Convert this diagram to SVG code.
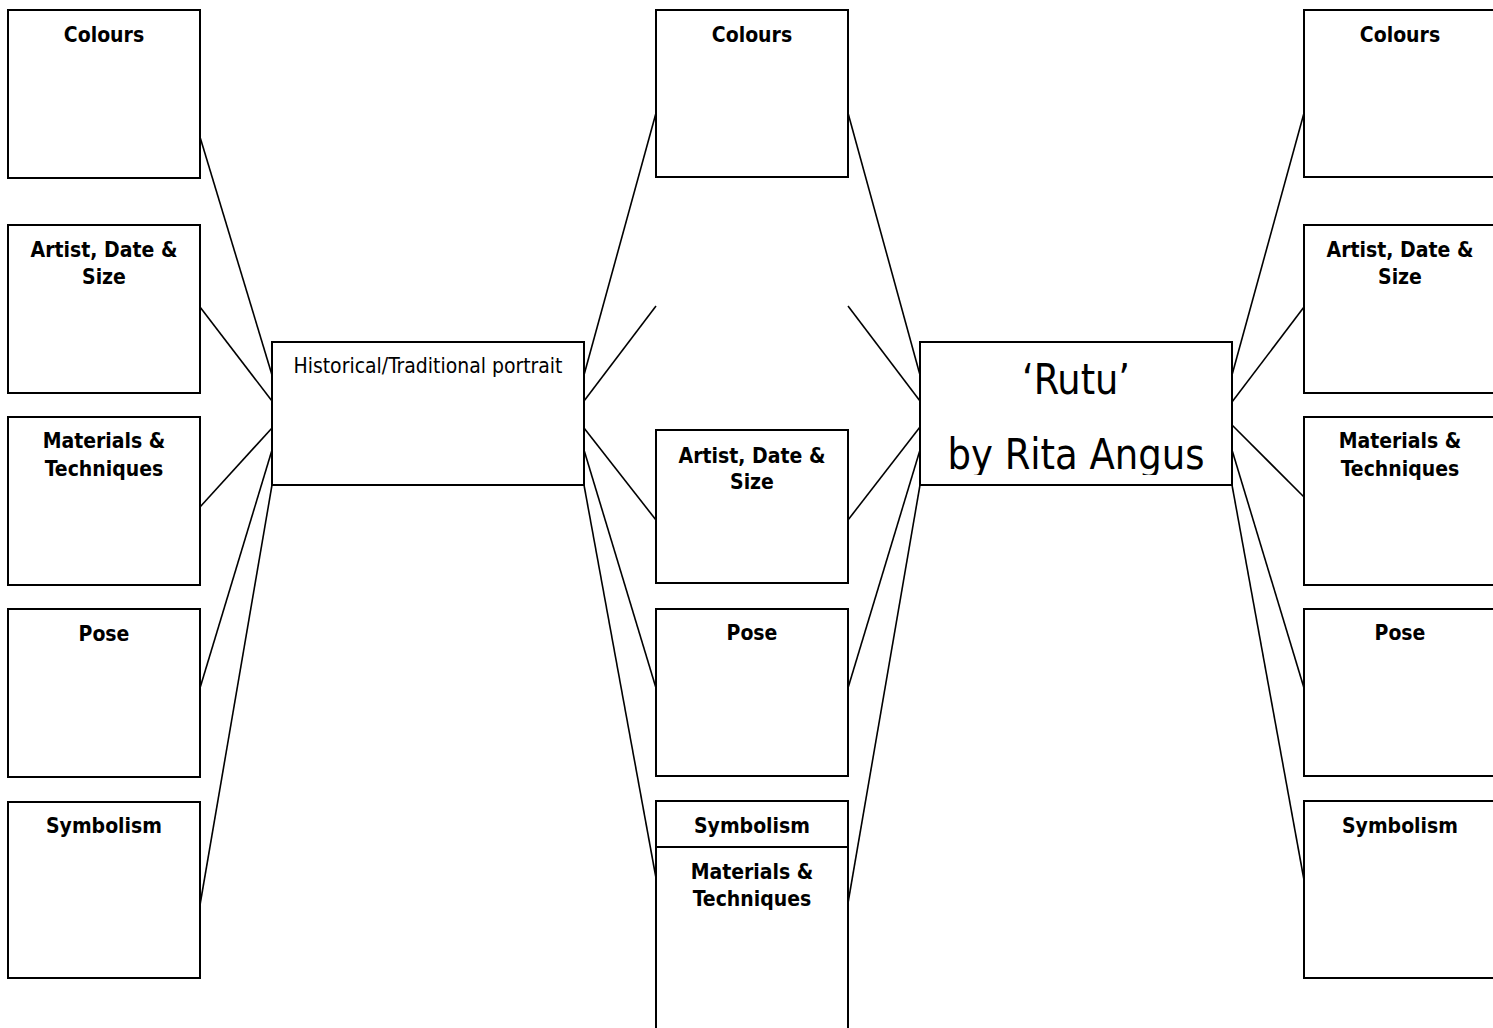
<svg xmlns="http://www.w3.org/2000/svg" width="1493" height="1028" viewBox="0 0 1493 1028">
<style>
.box{fill:#fff;stroke:#000;stroke-width:2}
.lbl{font-family:"DejaVu Sans Condensed","DejaVu Sans",sans-serif;font-weight:bold;font-size:21px;text-anchor:middle;fill:#000}
.reg{font-family:"DejaVu Sans Condensed","DejaVu Sans",sans-serif;text-anchor:middle;fill:#000}
#connectors line{stroke:#000;stroke-width:1.6}
</style>
<defs>
<clipPath id="rutuClip"><rect x="921" y="343" width="310" height="132"/></clipPath>
</defs>
<rect width="1493" height="1028" fill="#fff"/>
<g id="connectors">
<line x1="200" y1="137" x2="272" y2="375"/>
<line x1="200" y1="307" x2="272" y2="401"/>
<line x1="200" y1="507" x2="272" y2="428"/>
<line x1="200" y1="688" x2="272" y2="450"/>
<line x1="200" y1="905" x2="272" y2="485"/>
<line x1="584" y1="375" x2="656" y2="113"/>
<line x1="584" y1="401" x2="656" y2="306"/>
<line x1="584" y1="428" x2="656" y2="520"/>
<line x1="584" y1="450" x2="656" y2="688"/>
<line x1="584" y1="485" x2="656" y2="878"/>
<line x1="848" y1="113" x2="920" y2="375"/>
<line x1="848" y1="306" x2="920" y2="401"/>
<line x1="848" y1="520" x2="920" y2="427"/>
<line x1="848" y1="688" x2="920" y2="450"/>
<line x1="848" y1="903" x2="920" y2="485"/>
<line x1="1232" y1="375" x2="1304" y2="113"/>
<line x1="1232" y1="402" x2="1304" y2="307"/>
<line x1="1232" y1="425" x2="1304" y2="497"/>
<line x1="1232" y1="450" x2="1304" y2="688"/>
<line x1="1232" y1="485" x2="1304" y2="880"/>
</g>
<g id="left-colours"><rect class="box" x="8" y="10" width="192" height="168"/><text class="lbl" x="104" y="42">Colours</text></g>
<g id="left-artist"><rect class="box" x="8" y="225" width="192" height="168"/><text class="lbl" x="104" y="257">Artist, Date &amp;</text><text class="lbl" x="104" y="284">Size</text></g>
<g id="left-materials"><rect class="box" x="8" y="417" width="192" height="168"/><text class="lbl" x="104" y="448">Materials &amp;</text><text class="lbl" x="104" y="476">Techniques</text></g>
<g id="left-pose"><rect class="box" x="8" y="609" width="192" height="168"/><text class="lbl" x="104" y="641">Pose</text></g>
<g id="left-symbolism"><rect class="box" x="8" y="802" width="192" height="176"/><text class="lbl" x="104" y="833">Symbolism</text></g>
<g id="historical"><rect class="box" x="272" y="342" width="312" height="143"/><text class="reg" x="428" y="373" font-size="20.5" textLength="269" lengthAdjust="spacingAndGlyphs">Historical/Traditional portrait</text></g>
<g id="mid-colours"><rect class="box" x="656" y="10" width="192" height="167"/><text class="lbl" x="752" y="42">Colours</text></g>
<g id="mid-artist"><rect class="box" x="656" y="430" width="192" height="153"/><text class="lbl" x="752" y="463">Artist, Date &amp;</text><text class="lbl" x="752" y="489">Size</text></g>
<g id="mid-pose"><rect class="box" x="656" y="609" width="192" height="167"/><text class="lbl" x="752" y="640">Pose</text></g>
<g id="mid-symbolism"><rect class="box" x="656" y="801" width="192" height="176"/><text class="lbl" x="752" y="833">Symbolism</text></g>
<g id="mid-materials"><rect class="box" x="656" y="847" width="192" height="200"/><text class="lbl" x="752" y="879">Materials &amp;</text><text class="lbl" x="752" y="906">Techniques</text></g>
<g id="rutu"><rect class="box" x="920" y="342" width="312" height="143"/>
<text class="reg" x="1076" y="394" font-size="42" textLength="108" lengthAdjust="spacingAndGlyphs">‘Rutu’</text>
<text class="reg" x="1076" y="469" font-size="42" textLength="257" lengthAdjust="spacingAndGlyphs" clip-path="url(#rutuClip)">by Rita Angus</text></g>
<g id="right-colours"><rect class="box" x="1304" y="10" width="200" height="167"/><text class="lbl" x="1400" y="42">Colours</text></g>
<g id="right-artist"><rect class="box" x="1304" y="225" width="200" height="168"/><text class="lbl" x="1400" y="257">Artist, Date &amp;</text><text class="lbl" x="1400" y="284">Size</text></g>
<g id="right-materials"><rect class="box" x="1304" y="417" width="200" height="168"/><text class="lbl" x="1400" y="448">Materials &amp;</text><text class="lbl" x="1400" y="476">Techniques</text></g>
<g id="right-pose"><rect class="box" x="1304" y="609" width="200" height="167"/><text class="lbl" x="1400" y="640">Pose</text></g>
<g id="right-symbolism"><rect class="box" x="1304" y="801" width="200" height="177"/><text class="lbl" x="1400" y="833">Symbolism</text></g>
</svg>
